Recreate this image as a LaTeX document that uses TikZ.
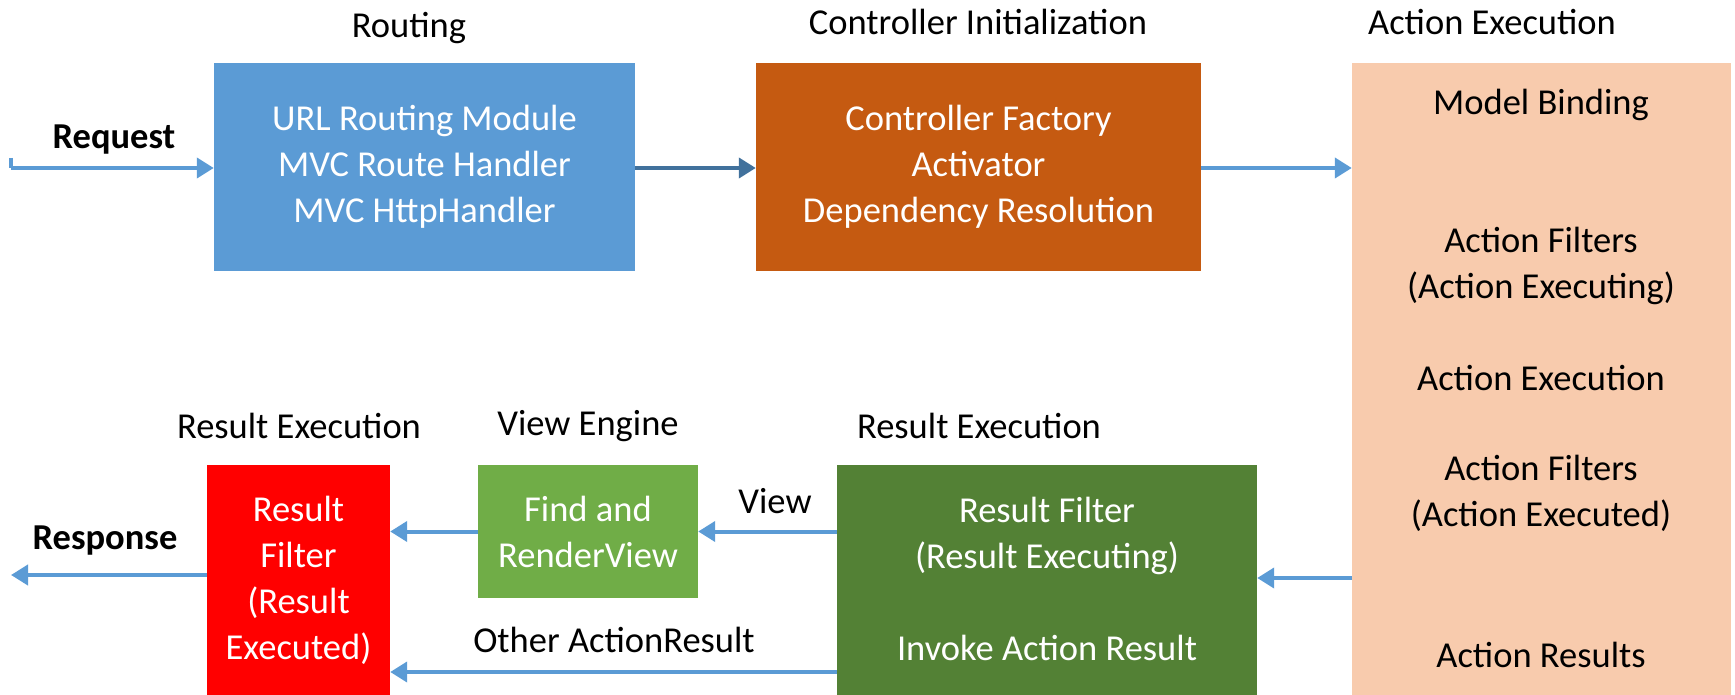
\documentclass[tikz,border=0pt]{standalone}
\usepackage{fontspec}
\setmainfont{Carlito}
\usetikzlibrary{arrows.meta}
\definecolor{cblue}{HTML}{5B9BD5}
\definecolor{cdblue}{HTML}{41719C}
\definecolor{corange}{HTML}{C55A11}
\definecolor{cpeach}{HTML}{F8CBAD}
\definecolor{cred}{HTML}{FF0000}
\definecolor{clgreen}{HTML}{70AD47}
\definecolor{cdgreen}{HTML}{538135}
\tikzset{
  box/.style={draw=none, inner sep=0pt, align=center, text=white,
    font=\fontsize{36.5}{46}\selectfont},
  ttl/.style={inner sep=0pt, font=\fontsize{36.5}{46}\selectfont},
  ptxt/.style={inner sep=0pt, font=\fontsize{36.5}{46}\selectfont, align=center},
  arr/.style={draw=cblue, line width=4pt, -{Triangle[width=20pt,length=17pt]}},
}
\begin{document}
\begin{tikzpicture}[x=1pt,y=-1pt]
\useasboundingbox (0,0) rectangle (1735,695);
% boxes
\node[box, fill=cblue, minimum width=421pt, minimum height=208pt] (route) at (424.5,167)
  {URL Routing Module\\MVC Route Handler\\MVC HttpHandler};
\node[box, fill=corange, minimum width=445pt, minimum height=208pt] (ctrl) at (978.5,167)
  {Controller Factory\\Activator\\Dependency Resolution};
\node[box, fill=cpeach, minimum width=379pt, minimum height=632pt] (act) at (1541.5,379) {};
\node[box, fill=cred, minimum width=183pt, minimum height=230pt] (rfilt) at (298.5,580)
  {Result\\Filter\\(Result\\Executed)};
\node[box, fill=clgreen, minimum width=220pt, minimum height=133pt] (view) at (588,531.5)
  {Find and\\RenderView};
\node[box, fill=cdgreen, minimum width=420pt, minimum height=230pt] (rexec) at (1047,580) {};
% texts inside dark green
\node[ptxt, text=white] (rx1) at (1047,535.5) {Result Filter\\(Result Executing)};
\node[ptxt, text=white] (rx2) at (1047,648) {Invoke Action Result};
% texts inside peach
\node[ptxt] (p1) at (1541,105) {Model Binding};
\node[ptxt] (p2) at (1541,265.5) {Action Filters\\(Action Executing)};
\node[ptxt] (p3) at (1541,378) {Action Execution};
\node[ptxt] (p4) at (1541,493) {Action Filters\\(Action Executed)};
\node[ptxt] (p5) at (1541,655) {Action Results};
% titles
\node[ttl] (t1) at (409,28) {Routing};
\node[ttl] (t2) at (978,22) {Controller Initialization};
\node[ttl] (t3) at (1492,22) {Action Execution};
\node[ttl] (t4) at (299,426) {Result Execution};
\node[ttl] (t5) at (588,426) {View Engine};
\node[ttl] (t6) at (979,426) {Result Execution};
% labels
\node[ttl, font=\fontsize{36.5}{46}\selectfont\bfseries] (lreq) at (114,140) {Request};
\node[ttl, font=\fontsize{36.5}{46}\selectfont\bfseries] (lresp) at (105,541) {Response};
\node[ttl] (lview) at (775,501) {View};
\node[ttl] (loth) at (614,640) {Other ActionResult};
% connectors
\coordinate (reqs) at (11,168);
\coordinate (reqt) at (11,158);
\coordinate (resp) at (11,575);
\draw[cblue, line width=4pt] (reqt) -- (reqs);
\draw[arr] (reqs) -- (route.west |- reqs);
\draw[arr, draw=cdblue] (route.east |- reqs) -- (ctrl.west |- reqs);
\draw[arr] (ctrl.east |- reqs) -- (act.west |- reqs);
\coordinate (ag) at (1352,578);
\draw[arr] (ag) -- (rexec.east |- ag);
\draw[arr] (rexec.west |- view.west) -- (view.east);
\draw[arr] (view.west) -- (rfilt.east |- view.west);
\coordinate (oa) at (837,672);
\draw[arr] (oa) -- (rfilt.east |- oa);
\draw[arr] (rfilt.west |- resp) -- (resp);
\end{tikzpicture}
\end{document}
